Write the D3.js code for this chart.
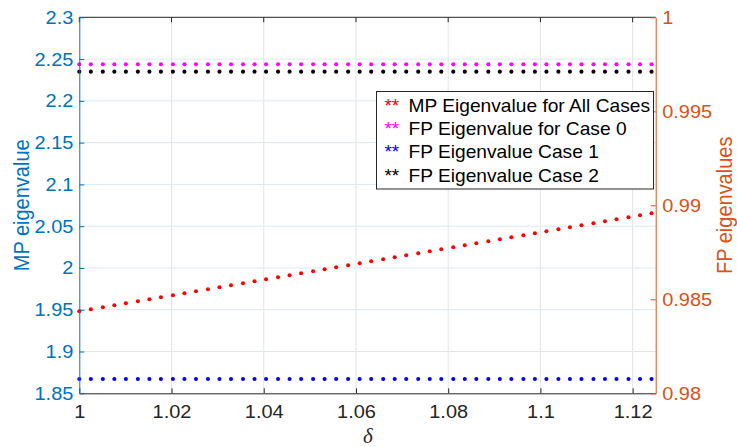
<!DOCTYPE html>
<html><head><meta charset="utf-8">
<script src="https://cdn.jsdelivr.net/npm/d3@7"></script>
<style>
body{margin:0;background:#fff}
svg{display:block}
text{font-family:"Liberation Sans",Arial,Helvetica,sans-serif}
</style></head>
<body><svg id="chart" width="737" height="447"></svg>
<script>
// ---- data ----
const delta = [1.0000,1.0025,1.0051,1.0076,1.0101,1.0127,1.0152,1.0177,1.0203,1.0228,
  1.0253,1.0279,1.0304,1.0329,1.0355,1.0380,1.0405,1.0431,1.0456,1.0481,
  1.0507,1.0532,1.0557,1.0583,1.0608,1.0633,1.0659,1.0684,1.0709,1.0735,
  1.0760,1.0785,1.0811,1.0836,1.0861,1.0887,1.0912,1.0937,1.0963,1.0988,
  1.1013,1.1039,1.1064,1.1089,1.1115,1.1140,1.1165,1.1191,1.1216,1.1241];
const mpAll = [1.9482,1.9506,1.9530,1.9554,1.9578,1.9602,1.9626,1.9650,1.9674,1.9697,
  1.9721,1.9745,1.9769,1.9793,1.9817,1.9841,1.9865,1.9889,1.9913,1.9937,
  1.9961,1.9985,2.0009,2.0033,2.0057,2.0081,2.0104,2.0128,2.0152,2.0176,
  2.0200,2.0224,2.0248,2.0272,2.0296,2.0320,2.0344,2.0368,2.0392,2.0416,
  2.0440,2.0464,2.0487,2.0511,2.0535,2.0559,2.0583,2.0607,2.0631,2.0655];
const fpCase0 = [0.9975,0.9975,0.9975,0.9975,0.9975,0.9975,0.9975,0.9975,0.9975,0.9975,
  0.9975,0.9975,0.9975,0.9975,0.9975,0.9975,0.9975,0.9975,0.9975,0.9975,
  0.9975,0.9975,0.9975,0.9975,0.9975,0.9975,0.9975,0.9975,0.9975,0.9975,
  0.9975,0.9975,0.9975,0.9975,0.9975,0.9975,0.9975,0.9975,0.9975,0.9975,
  0.9975,0.9975,0.9975,0.9975,0.9975,0.9975,0.9975,0.9975,0.9975,0.9975];
const fpCase1 = [0.98076,0.98076,0.98076,0.98076,0.98076,0.98076,0.98076,0.98076,0.98076,0.98076,
  0.98076,0.98076,0.98076,0.98076,0.98076,0.98076,0.98076,0.98076,0.98076,0.98076,
  0.98076,0.98076,0.98076,0.98076,0.98076,0.98076,0.98076,0.98076,0.98076,0.98076,
  0.98076,0.98076,0.98076,0.98076,0.98076,0.98076,0.98076,0.98076,0.98076,0.98076,
  0.98076,0.98076,0.98076,0.98076,0.98076,0.98076,0.98076,0.98076,0.98076,0.98076];
const fpCase2 = [0.99711,0.99711,0.99711,0.99711,0.99711,0.99711,0.99711,0.99711,0.99711,0.99711,
  0.99711,0.99711,0.99711,0.99711,0.99711,0.99711,0.99711,0.99711,0.99711,0.99711,
  0.99711,0.99711,0.99711,0.99711,0.99711,0.99711,0.99711,0.99711,0.99711,0.99711,
  0.99711,0.99711,0.99711,0.99711,0.99711,0.99711,0.99711,0.99711,0.99711,0.99711,
  0.99711,0.99711,0.99711,0.99711,0.99711,0.99711,0.99711,0.99711,0.99711,0.99711];

const xTicks = [1, 1.02, 1.04, 1.06, 1.08, 1.1, 1.12];
const xTickLabels = ["1", "1.02", "1.04", "1.06", "1.08", "1.1", "1.12"];
const yLeftTicks = [1.85, 1.9, 1.95, 2, 2.05, 2.1, 2.15, 2.2, 2.25, 2.3];
const yLeftTickLabels = ["1.85", "1.9", "1.95", "2", "2.05", "2.1", "2.15", "2.2", "2.25", "2.3"];
const yRightTicks = [0.98, 0.985, 0.99, 0.995, 1];
const yRightTickLabels = ["0.98", "0.985", "0.99", "0.995", "1"];
const legendLabels = ["MP Eigenvalue for All Cases", "FP Eigenvalue for Case 0", "FP Eigenvalue Case 1", "FP Eigenvalue Case 2"];
const legendColors = ["#ff0000", "#ff00ff", "#0000ff", "#000000"];

// ---- layout ----
const W = 737, H = 447;
const L = 79.3, R = 655.7, T = 17.3, B = 393.3;
const blue = "#0072BD", orange = "#D95319", dark = "#262626";
const SX = "scale(1.08,1)";

const svg = d3.select("#chart");
const x = d3.scaleLinear().domain([1, 1.125]).range([L, R]);
const yL = d3.scaleLinear().domain([1.85, 2.3]).range([B, T]);
const yR = d3.scaleLinear().domain([0.98, 1]).range([B, T]);

// grid
const grid = svg.append("g");
grid.selectAll("line.vg").data(xTicks.filter(d => d > 1)).join("line")
  .attr("x1", d => x(d)).attr("x2", d => x(d)).attr("y1", T).attr("y2", B)
  .attr("stroke", "#e4e4e4").attr("stroke-width", 1);
grid.selectAll("line.hg").data(yLeftTicks.filter(d => d > 1.85 && d < 2.3)).join("line")
  .attr("x1", L).attr("x2", R).attr("y1", d => yL(d)).attr("y2", d => yL(d))
  .attr("stroke", "#dbe8f3").attr("stroke-width", 1);

// points
const series = [
  {vals: mpAll, scale: yL, color: legendColors[0]},
  {vals: fpCase0, scale: yR, color: legendColors[1]},
  {vals: fpCase1, scale: yR, color: legendColors[2]},
  {vals: fpCase2, scale: yR, color: legendColors[3]}
];
series.forEach(s => {
  svg.append("g").selectAll("circle").data(delta).join("circle")
    .attr("cx", d => x(d)).attr("cy", (d, i) => s.scale(s.vals[i]))
    .attr("r", 2.05).attr("fill", s.color);
});

// top border with mirrored ticks
svg.append("line").attr("x1", L).attr("x2", R).attr("y1", T).attr("y2", T)
  .attr("stroke", dark).attr("stroke-width", 1);
svg.append("g").selectAll("line").data(xTicks).join("line")
  .attr("x1", d => x(d)).attr("x2", d => x(d)).attr("y1", T).attr("y2", T + 5)
  .attr("stroke", dark).attr("stroke-width", 1);

// axes
const fontTick = "18.5px";
const gx = svg.append("g").attr("transform", `translate(0,${B})`)
  .call(d3.axisBottom(x).tickValues(xTicks).tickFormat((d, i) => xTickLabels[i])
    .tickSizeInner(-5).tickSizeOuter(0).tickPadding(11.5));
gx.select(".domain").attr("stroke", dark);
gx.selectAll(".tick line").attr("stroke", dark);
gx.selectAll(".tick text").attr("fill", dark).style("font-size", fontTick)
  .attr("font-family", null).attr("transform", SX);

const gl = svg.append("g").attr("transform", `translate(${L},0)`)
  .call(d3.axisLeft(yL).tickValues(yLeftTicks).tickFormat((d, i) => yLeftTickLabels[i])
    .tickSizeInner(-5).tickSizeOuter(0).tickPadding(5.5));
gl.select(".domain").attr("stroke", blue);
gl.selectAll(".tick line").attr("stroke", blue);
gl.selectAll(".tick text").attr("fill", blue).style("font-size", fontTick)
  .attr("font-family", null).attr("transform", SX);

const gr = svg.append("g").attr("transform", `translate(${R},0)`)
  .call(d3.axisRight(yR).tickValues(yRightTicks).tickFormat((d, i) => yRightTickLabels[i])
    .tickSizeInner(-5).tickSizeOuter(0).tickPadding(6));
gr.select(".domain").attr("stroke", orange);
gr.selectAll(".tick line").attr("stroke", orange);
gr.selectAll(".tick text").attr("fill", orange).style("font-size", fontTick)
  .attr("font-family", null).attr("transform", SX);

svg.selectAll(".domain").attr("stroke-width", 1);

// axis titles
svg.append("text").attr("transform", `translate(29,${(T + B) / 2}) scale(1.08,1) rotate(-90)`)
  .attr("text-anchor", "middle").attr("fill", blue).style("font-size", "20px").text("MP eigenvalue");
svg.append("text").attr("transform", `translate(732,${(T + B) / 2}) scale(1.08,1) rotate(-90)`)
  .attr("text-anchor", "middle").attr("fill", orange).style("font-size", "20px").text("FP eigenvalues");
svg.append("text").attr("x", 368).attr("y", 443).attr("text-anchor", "middle")
  .attr("fill", dark).style("font-family", "'Liberation Serif','Times New Roman',serif")
  .style("font-style", "italic").style("font-size", "21px").text("δ");

// legend
const lg = svg.append("g");
lg.append("rect").attr("x", 376.5).attr("y", 91.5).attr("width", 277).attr("height", 97.5)
  .attr("fill", "#fff").attr("stroke", dark).attr("stroke-width", 1);
const rowBase = [111.7, 135, 158.3, 181.7];
legendLabels.forEach((lab, i) => {
  lg.append("text").attr("transform", `translate(384.5,${rowBase[i]}) scale(1.08,1)`)
    .attr("fill", legendColors[i]).style("font-size", "17.5px").text("**");
  lg.append("text").attr("transform", `translate(408.5,${rowBase[i]}) scale(1.09,1)`)
    .attr("fill", "#000").style("font-size", "17.6px").text(lab);
});
</script></body></html>
